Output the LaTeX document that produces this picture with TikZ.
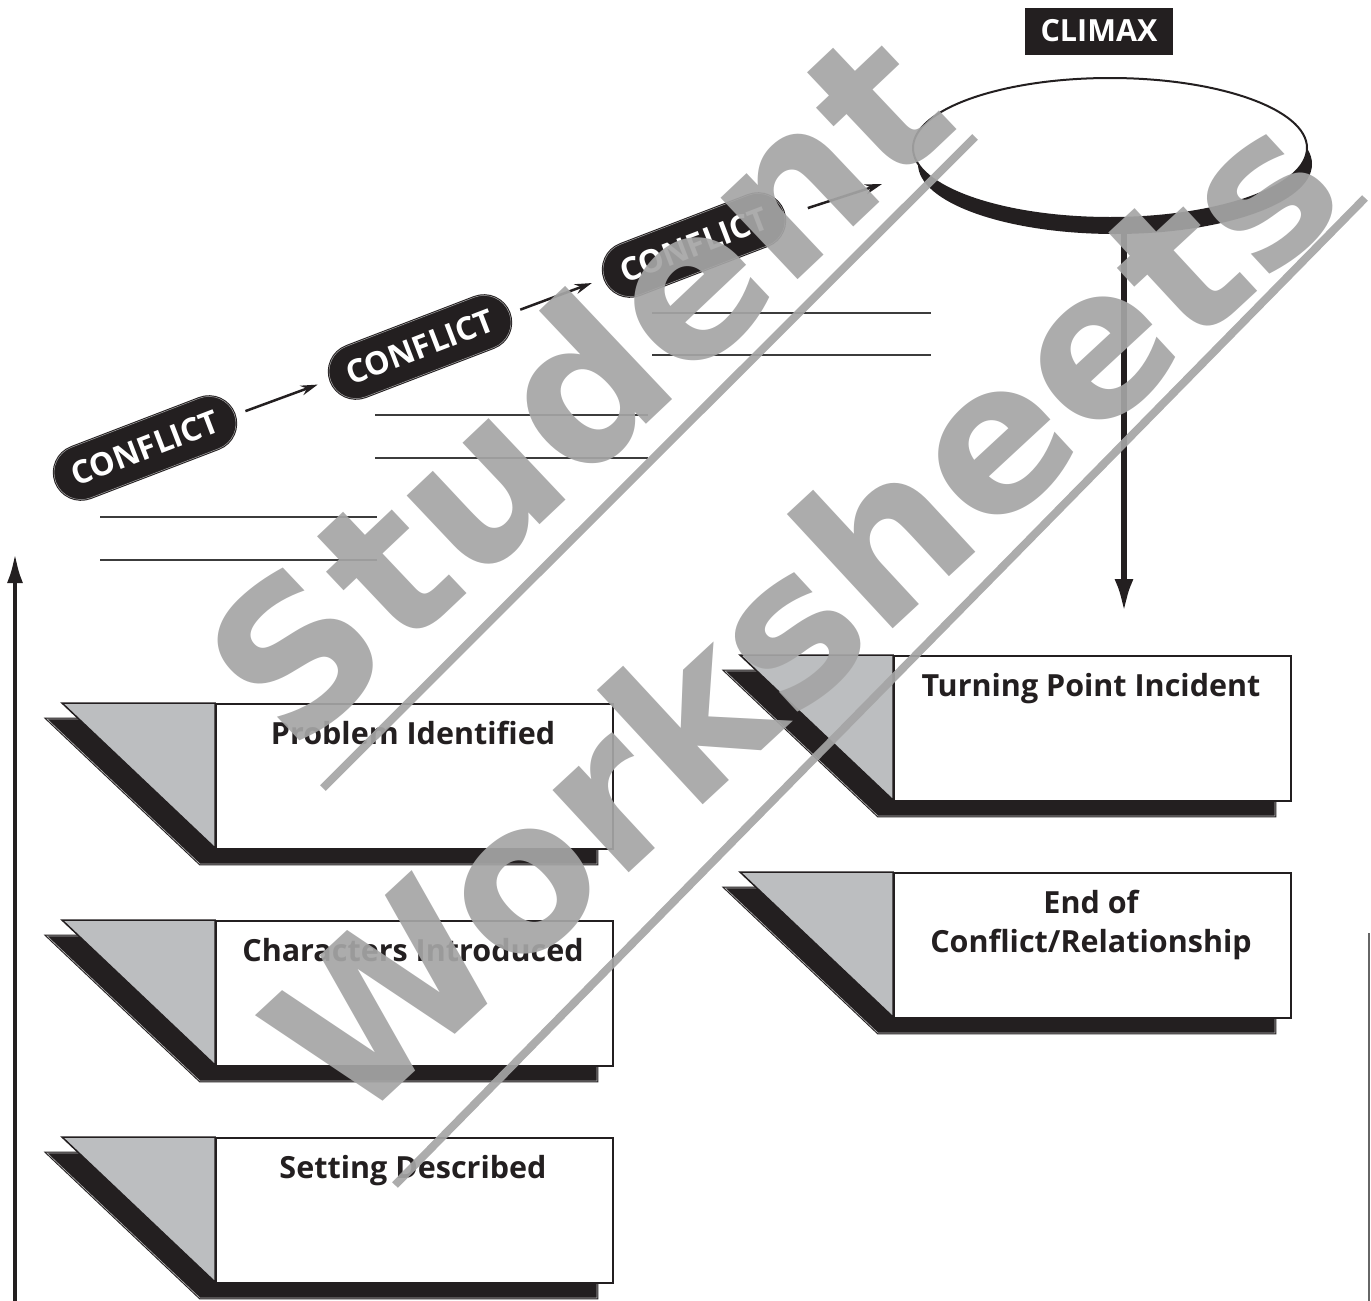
\documentclass[tikz,border=0pt]{standalone}
\usepackage{fontspec}
\setmainfont{Open Sans}
\newfontfamily\wmfont{DejaVu Sans}
\usepackage{tikz}
\usetikzlibrary{arrows.meta}
\usetikzlibrary{positioning,calc}
\usetikzlibrary{shapes.misc,shapes.geometric}
\definecolor{shadowblack}{RGB}{35,31,32}
\definecolor{flapgray}{RGB}{188,190,192}
\definecolor{rulegray}{RGB}{60,60,60}
\definecolor{wmgray}{RGB}{165,165,165}
\tikzset{
    boxrect/.style={
        draw=shadowblack,
        line width=2pt,
        fill=white,
        anchor=north west,
        minimum width=397pt,
        minimum height=145pt,
        inner sep=0pt
    },
    boxflap/.style={draw=shadowblack, line width=1.5pt, fill=flapgray},
    boxshadow/.style={fill=shadowblack, draw=shadowblack, double=gray!60, double distance=0.6pt, line width=1pt},
    boxtitle/.style={
        font=\fontsize{30.5}{39}\selectfont\bfseries,
        text=shadowblack,
        anchor=base,
        align=center,
        inner sep=0pt
    },
    conflict/.style={
        rounded rectangle,
        fill=shadowblack,
        draw=shadowblack,
        double=gray!70,
        double distance=0.5pt,
        line width=1pt,
        text=white,
        font=\fontsize{32}{38}\selectfont\bfseries,
        rotate=21,
        minimum width=191pt,
        minimum height=54pt,
        inner sep=0pt
    },
    conflictarrow/.style={-{Stealth[length=17pt, width=10pt]}, line width=2.5pt, draw=shadowblack},
    writeline/.style={draw=rulegray, line width=1.8pt},
    watermark/.style={text=wmgray, opacity=0.92, font=\fontsize{205}{205}\selectfont\wmfont\bfseries, inner sep=0pt},
    wmline/.style={draw=wmgray, opacity=0.92, line width=8pt}
}

\begin{document}
\begin{tikzpicture}[x=1pt, y=-1pt]
    \useasboundingbox (0,0) rectangle (1371,1301);

    % Rising action axis on the left
    \coordinate (axisbottom) at (15,1301);
    \coordinate (axistop) at (15,553);
    \draw[line width=4.5pt, draw=shadowblack, -{Latex[length=30pt, width=16pt]}] (axisbottom) -- (axistop);

    % Setting Described
    \begin{scope}[shift={(62,1137)}]
        \draw[boxshadow] (-15,16) -- (535,16) -- (535,161) -- (138,161) -- cycle;
        \draw[boxflap] (0,0) -- (153,0) -- (153,145) -- cycle;
        \node[boxrect] (setting) at (153,0) {};
        \node[boxtitle] (settingtitle) at (351,41) {Setting Described};
    \end{scope}

    % Characters Introduced
    \begin{scope}[shift={(62,920)}]
        \draw[boxshadow] (-15,16) -- (535,16) -- (535,161) -- (138,161) -- cycle;
        \draw[boxflap] (0,0) -- (153,0) -- (153,145) -- cycle;
        \node[boxrect] (chars) at (153,0) {};
        \node[boxtitle] (charstitle) at (351,41) {Characters Introduced};
    \end{scope}

    % Problem Identified
    \begin{scope}[shift={(62,703)}]
        \draw[boxshadow] (-15,16) -- (535,16) -- (535,161) -- (138,161) -- cycle;
        \draw[boxflap] (0,0) -- (153,0) -- (153,145) -- cycle;
        \node[boxrect] (prob) at (153,0) {};
        \node[boxtitle] (probtitle) at (351,41) {Problem Identified};
    \end{scope}

    % Turning Point Incident
    \begin{scope}[shift={(740,655)}]
        \draw[boxshadow] (-15,16) -- (535,16) -- (535,161) -- (138,161) -- cycle;
        \draw[boxflap] (0,0) -- (153,0) -- (153,145) -- cycle;
        \node[boxrect] (turn) at (153,0) {};
        \node[boxtitle] (turntitle) at (351,41) {Turning Point Incident};
    \end{scope}

    % End of Conflict/Relationship
    \begin{scope}[shift={(740,872)}]
        \draw[boxshadow] (-15,16) -- (535,16) -- (535,161) -- (138,161) -- cycle;
        \draw[boxflap] (0,0) -- (153,0) -- (153,145) -- cycle;
        \node[boxrect] (endconf) at (153,0) {};
        \node[boxtitle] (endconftitle) at (351,80) {End of\\Conflict/Relationship};
    \end{scope}

    % Writing lines
    \draw[writeline] (100,517) -- (377,517);
    \draw[writeline] (100,560) -- (377,560);
    \draw[writeline] (375,415) -- (648,415);
    \draw[writeline] (375,458) -- (648,458);
    \draw[writeline] (652,313) -- (931,313);
    \draw[writeline] (652,355) -- (931,355);

    % Climax
    \node[fill=shadowblack, text=white, font=\fontsize{30.5}{36}\selectfont\bfseries, minimum width=148pt, minimum height=47pt, inner sep=0pt] (climax) at (1099,31) {CLIMAX};
    \node[ellipse, fill=shadowblack, minimum width=394pt, minimum height=140pt, inner sep=0pt] (climaxshadow) at (1115,164) {};
    \node[ellipse, draw=shadowblack, line width=2pt, fill=white, minimum width=394pt, minimum height=140pt, inner sep=0pt] (climaxoval) at (1110,148) {};

    \coordinate (turnpoint) at (1124,613);
    \draw[line width=6pt, draw=shadowblack, -{Latex[length=34pt, width=19pt]}] (climaxshadow.south -| turnpoint) -- (turnpoint);

    % Conflicts leading up to the climax
    \node[conflict] (conf1) at (145,448) {CONFLICT};
    \node[conflict] (conf2) at (420,347) {CONFLICT};
    \node[conflict] (conf3) at (694,245) {CONFLICT};
    \coordinate (climaxentry) at (882,184);
    \draw[conflictarrow, shorten <=11pt, shorten >=13pt] (conf1) -- (conf2);
    \draw[conflictarrow, shorten <=11pt, shorten >=13pt] (conf2) -- (conf3);
    \draw[conflictarrow, shorten <=24pt] (conf3) -- (climaxentry);

    % Edge rule on the right
    \draw[draw=gray!80!black, line width=1.5pt] (1369,933) -- (1369,1301);

    % Watermark
    \node[watermark, rotate=43.4] (wmstudent) at (576,385) {Student};
    \node[watermark, rotate=42.8] (wmworksheets) at (801,610) {Worksheets};
    \draw[wmline] (323,788) -- (975,137);
    \draw[wmline] (395,1185) -- (1365,198);
\end{tikzpicture}
\end{document}
